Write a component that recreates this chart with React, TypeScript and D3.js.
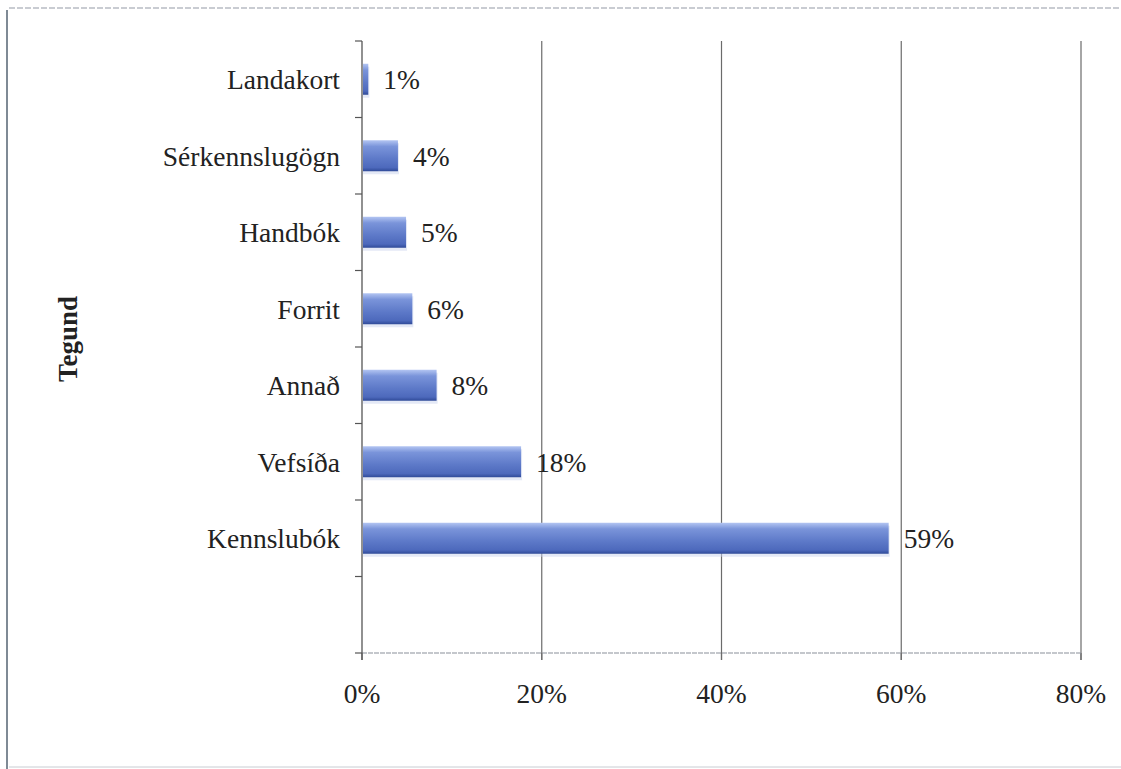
import React from "react";
import * as d3 from "d3";

const categories = ["Landakort", "Sérkennslugögn", "Handbók", "Forrit", "Annað", "Vefsíða", "Kennslubók", ""];
const values = [0.7, 4.0, 4.9, 5.6, 8.3, 17.7, 58.6, null];
const valueLabels = ["1%", "4%", "5%", "6%", "8%", "18%", "59%", ""];
const xTicks = [0, 20, 40, 60, 80];
const axisTitle = "Tegund";

const W = 1121;
const H = 769;
const left = 362;
const right = 1081;
const top = 41;
const bottom = 653;
const font = "Liberation Serif, Tinos, DejaVu Serif, serif";
const fs = 27.5;

export default function App() {
  const x = d3.scaleLinear().domain([0, 80]).range([left, right]);
  const band = (bottom - top) / categories.length;
  const keys = categories.map((c, i) => i + ":" + c);
  const barH = 31;
  return (
    <svg width={W} height={H} style={{ position: "absolute", left: 0, top: 0, background: "#fff" }}>
      <defs>
        <linearGradient id="barG" x1="0" y1="0" x2="0" y2="1">
          <stop offset="0" stopColor="#b3c5f2" />
          <stop offset="0.2" stopColor="#7a94da" />
          <stop offset="0.6" stopColor="#5d79c8" />
          <stop offset="0.88" stopColor="#4d69bc" />
          <stop offset="1" stopColor="#2f4a98" />
        </linearGradient>
      </defs>
      {/* outer frame */}
      <line x1={7} y1={10} x2={7} y2={H} stroke="#7f8a95" strokeWidth={2} />
      <line x1={9} y1={8} x2={W} y2={8} stroke="#b8bcc4" strokeWidth={1.5} strokeDasharray="6 2" />
      <line x1={9} y1={H - 2} x2={W} y2={H - 2} stroke="#c8ccd2" strokeWidth={1} />
      {/* grid */}
      {xTicks.map((t) => (
        <g key={t}>
          {t > 0 && <line x1={x(t)} y1={top} x2={x(t)} y2={bottom + 7} stroke="#6b6b6b" strokeWidth={1.2} />}
          <line x1={x(t)} y1={bottom} x2={x(t)} y2={bottom + 7} stroke="#6b6b6b" strokeWidth={1.2} />
          <text x={x(t)} y={703} textAnchor="middle" fontFamily={font} fontSize={fs} fill="#222">{t + "%"}</text>
        </g>
      ))}
      {/* axes */}
      <line x1={left} y1={bottom} x2={right} y2={bottom} stroke="#8a8f9a" strokeWidth={1.2} strokeDasharray="5 1" />
      <line x1={left} y1={top} x2={left} y2={bottom + 7} stroke="#555" strokeWidth={1.3} />
      {d3.range(categories.length + 1).map((i) => (
        <line key={i} x1={left - 7} x2={left} y1={top + i * band} y2={top + i * band} stroke="#555" strokeWidth={1.2} />
      ))}
      {/* bars */}
      {keys.map((k, i) => {
        const v = values[i];
        const cy = top + (i + 0.5) * band;
        return (
          <g key={k}>
            <text x={left - 22} y={cy + 10} textAnchor="end" fontFamily={font} fontSize={fs} fill="#222">{categories[i]}</text>
            {v !== null && (
              <g>
                <rect x={left + 1} y={cy - barH / 2 + 3} width={x(v) - left} height={barH} fill="#c9d3ee" opacity={0.5} />
                <rect x={left + 1} y={cy - barH / 2} width={x(v) - left - 1} height={barH} fill="url(#barG)" />
                <text x={x(v) + 15} y={cy + 10} fontFamily={font} fontSize={fs} fill="#222">{valueLabels[i]}</text>
              </g>
            )}
          </g>
        );
      })}
      <text transform={`translate(77,339) rotate(-90)`} textAnchor="middle" fontFamily={font} fontSize={27} fontWeight="bold" fill="#222">{axisTitle}</text>
    </svg>
  );
}
